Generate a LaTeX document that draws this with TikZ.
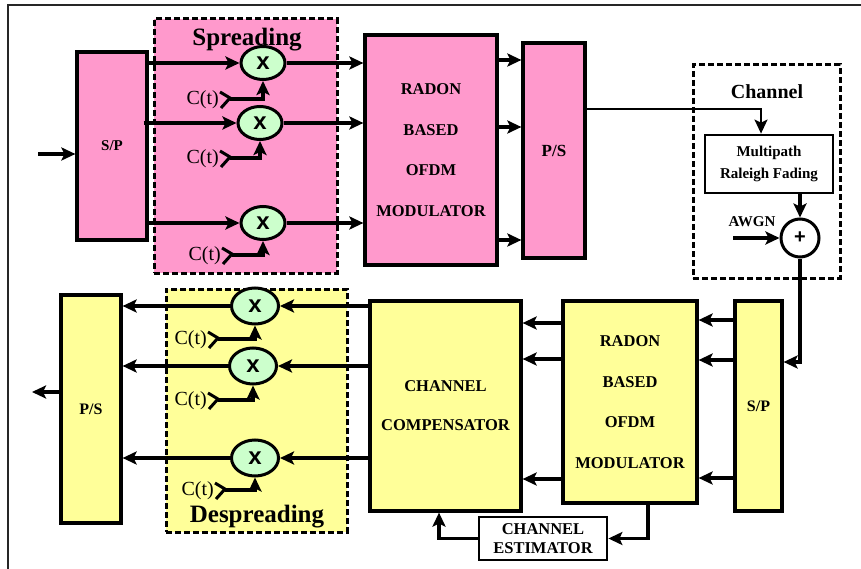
\documentclass[tikz,border=0pt]{standalone}
\usepackage{fontspec}
\setmainfont{Liberation Serif}
\newfontfamily\sansf{Liberation Sans}
\usetikzlibrary{arrows.meta,calc,shapes.geometric}
\definecolor{pinkf}{HTML}{FF99CC}
\definecolor{yelf}{HTML}{FFFF99}
\definecolor{grnf}{HTML}{CCFFCC}
\tikzset{
  box/.style={draw, line width=3.2pt, inner sep=0pt, align=center},
  dbox/.style={draw, line width=3pt, dash pattern=on 6pt off 3pt},
  mul/.style={draw, ellipse, fill=grnf, line width=3pt, minimum width=44pt, minimum height=33pt, inner sep=0pt, font=\sansf\bfseries\fontsize{24}{24}\selectfont},
  arr/.style={line width=3.2pt, -{Stealth[length=14pt,width=13pt,inset=3pt]}},
  ctsrc/.pic={
    \draw[line width=3pt, line join=miter] (-10,-7) -- (0,-1) -- (-9,9);
    \node[anchor=east, font=\fontsize{20}{20}\selectfont, inner sep=0pt] (-lbl) at (-11,1) {C(t)};
  }
}
\begin{document}
\begin{tikzpicture}[x=1pt,y=-1pt]
\useasboundingbox (0,0) rectangle (861,569);
\draw[line width=2pt, black!85] (8,569) -- (8,5) -- (861,5);

% ---------- transmitter ----------
\node[dbox, fill=pinkf, minimum width=183pt, minimum height=254pt] (spr) at (245.5,146) {};
\node[font=\bfseries\fontsize{25}{25}\selectfont, inner sep=0pt] (sprl) at (247,40) {Spreading};
\node[box, fill=pinkf, minimum width=70pt, minimum height=188pt, font=\bfseries\fontsize{15}{15}\selectfont] (sp1) at (112,146) {S/P};
\node[box, fill=pinkf, minimum width=132pt, minimum height=230pt, font=\bfseries\fontsize{16.5}{40.7}\selectfont] (rad1) at (431,150) {RADON\\BASED\\OFDM\\MODULATOR};
\node[box, fill=pinkf, minimum width=62pt, minimum height=215pt, font=\bfseries\fontsize{17}{17}\selectfont] (ps1) at (554,150.5) {P/S};

\node[mul] (m1) at (263,63) {x};
\node[mul] (m2) at (260,123) {x};
\node[mul] (m3) at (263,223) {x};

\coordinate (in1) at (38,154);
\draw[arr] (in1) -- (in1 -| sp1.west);
\draw[arr] (sp1.east |- m1) -- (m1.west);
\draw[arr] ([xshift=-5pt]sp1.east |- m2) -- (m2.west);
\draw[arr] (sp1.east |- m3) -- (m3.west);
\draw[arr] (m1.east) -- (m1.east -| rad1.west);
\draw[arr] (m2.east) -- (m2.east -| rad1.west);
\draw[arr] (m3.east) -- (m3.east -| rad1.west);
\draw[arr] (rad1.east |- 0,60) -- (ps1.west |- 0,60);
\draw[arr] (rad1.east |- 0,127) -- (ps1.west |- 0,127);
\draw[arr] (rad1.east |- 0,240) -- (ps1.west |- 0,240);

\coordinate (c1) at (230,99);
\coordinate (c2) at (230,158);
\coordinate (c3) at (232,255);
\pic (ct1) at (c1) {ctsrc};
\pic (ct2) at (c2) {ctsrc};
\pic (ct3) at (c3) {ctsrc};
\draw[arr] (c1) -| (m1.south);
\draw[arr] (c2) -| (m2.south);
\draw[arr] (c3) -| (m3.south);

% ---------- channel ----------
\node[dbox, minimum width=147pt, minimum height=213pt] (chan) at (766.5,171.5) {};
\node[font=\bfseries\fontsize{20}{20}\selectfont, inner sep=0pt] (chanl) at (767,92) {Channel};
\node[box, line width=2.8pt, fill=white, minimum width=128pt, minimum height=58pt, font=\bfseries\fontsize{15}{22}\selectfont] (mp) at (769,164) {Multipath\\Raleigh Fading};
\node[draw, circle, line width=3pt, minimum size=38pt, inner sep=0pt, font=\sansf\bfseries\fontsize{20}{20}\selectfont] (plus) at (800,238) {+};
\node[font=\bfseries\fontsize{15}{15}\selectfont, inner sep=0pt] (awgn) at (752,222) {AWGN};
\coordinate (awin) at (733,238);
\draw[arr, line width=2pt] (ps1.east |- 0,109) -| ([xshift=-8pt]mp.north);
\draw[arr] (mp.south -| plus.north) -- (plus.north);
\draw[arr] (awin) -- (plus.west);

% ---------- receiver ----------
\node[dbox, fill=yelf, minimum width=181pt, minimum height=243pt] (desp) at (256.5,410.5) {};
\node[font=\bfseries\fontsize{25}{25}\selectfont, inner sep=0pt] (despl) at (257,517) {Despreading};
\node[box, fill=yelf, minimum width=60pt, minimum height=228pt, font=\bfseries\fontsize{16}{16}\selectfont] (ps2) at (91,409) {P/S};
\node[box, fill=yelf, minimum width=151pt, minimum height=210pt, font=\bfseries\fontsize{16.5}{39}\selectfont] (cc) at (445.5,406) {CHANNEL\\COMPENSATOR};
\node[box, fill=yelf, minimum width=134pt, minimum height=202pt, font=\bfseries\fontsize{16.5}{40.7}\selectfont] (rad2) at (630,402) {RADON\\BASED\\OFDM\\MODULATOR};
\node[box, fill=yelf, minimum width=47pt, minimum height=210pt, font=\bfseries\fontsize{16}{16}\selectfont] (sp2) at (758.5,406) {S/P};
\node[box, line width=2.8pt, fill=white, minimum width=128pt, minimum height=43pt, font=\bfseries\fontsize{16.5}{19}\selectfont] (est) at (543,538.5) {CHANNEL\\ESTIMATOR};

\node[mul, minimum width=47pt, minimum height=36pt] (d1) at (255,306) {x};
\node[mul, minimum width=47pt, minimum height=36pt] (d2) at (253,366) {x};
\node[mul, minimum width=47pt, minimum height=36pt] (d3) at (255,458) {x};

\draw[arr] (plus.south) |- (sp2.east |- 0,362);
\draw[arr] (sp2.west |- 0,320) -- (rad2.east |- 0,320);
\draw[arr] (sp2.west |- 0,360) -- (rad2.east |- 0,360);
\draw[arr] (sp2.west |- 0,478) -- (rad2.east |- 0,478);
\draw[arr] (rad2.west |- 0,323) -- (cc.east |- 0,323);
\draw[arr] (rad2.west |- 0,359) -- (cc.east |- 0,359);
\draw[arr] (rad2.west |- 0,479) -- (cc.east |- 0,479);
\draw[arr] (cc.west |- d1) -- (d1.east);
\draw[arr] (cc.west |- d2) -- (d2.east);
\draw[arr] (cc.west |- d3) -- (d3.east);
\draw[arr] (d1.west) -- (d1.west -| ps2.east);
\draw[arr] (d2.west) -- (d2.west -| ps2.east);
\draw[arr] (d3.west) -- (d3.west -| ps2.east);
\coordinate (out) at (32,392);
\draw[arr] (ps2.west |- out) -- (out);
\draw[arr] ([xshift=18pt]rad2.south) |- (est.east);
\draw[arr] (est.west) -| ([xshift=-6.5pt]cc.south);

\coordinate (e1) at (218,339);
\coordinate (e2) at (218,400);
\coordinate (e3) at (225,490);
\pic (et1) at (e1) {ctsrc};
\pic (et2) at (e2) {ctsrc};
\pic (et3) at (e3) {ctsrc};
\draw[arr] (e1) -| (d1.south);
\draw[arr] (e2) -| (d2.south);
\draw[arr] (e3) -| (d3.south);
\end{tikzpicture}
\end{document}
